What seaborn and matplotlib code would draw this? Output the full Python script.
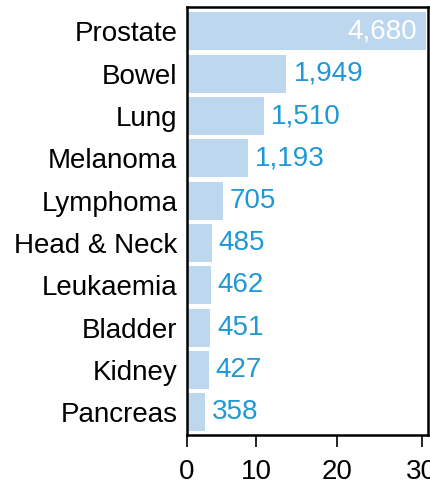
import matplotlib
matplotlib.use("Agg")
import matplotlib.pyplot as plt
import seaborn as sns
import pandas as pd

cancers = ["Prostate", "Bowel", "Lung", "Melanoma", "Lymphoma",
           "Head & Neck", "Leukaemia", "Bladder", "Kidney", "Pancreas"]
cases = [4680, 1949, 1510, 1193, 705, 485, 462, 451, 427, 358]
tick_labels = ["0", "10", "20", "30"]
tick_values = [0, 1360, 2940, 4600]

df = pd.DataFrame({"cancer": cancers, "cases": cases})

sns.set_style("white")
plt.rcParams["font.family"] = ["Liberation Sans", "DejaVu Sans"]
plt.rcParams["text.color"] = "black"
plt.rcParams["xtick.color"] = "black"
plt.rcParams["ytick.color"] = "black"

fig = plt.figure(figsize=(4.3, 4.88), dpi=100)
ax = fig.add_axes([0.435, 0.109, 0.56, 0.877])

sns.barplot(data=df, x="cases", y="cancer", orient="h", color="#bdd7ef",
            saturation=1, width=0.9, linewidth=0, ax=ax)

ax.set_xlim(0, 4720)
ax.set_ylim(len(cancers) - 0.47, -0.58)
ax.set_xlabel("")
ax.set_ylabel("")
ax.set_xticks(tick_values)
ax.set_xticklabels(tick_labels)
ax.tick_params(axis="x", direction="out", length=8.5, width=1.2, pad=9,
               labelsize=20, bottom=True, colors="black")
ax.tick_params(axis="y", length=0, pad=7, labelsize=20, colors="black")

for s in ax.spines.values():
    s.set_visible(True)
    s.set_linewidth(1.8)
    s.set_color("black")

for i, (bar, v) in enumerate(zip(ax.patches, cases)):
    y = bar.get_y() + bar.get_height() / 2
    if i == 0:
        ax.annotate(f"{v:,}", (bar.get_width(), y), xytext=(-6, 0),
                    textcoords="offset points", ha="right", va="center",
                    color="white", fontsize=20)
    else:
        ax.annotate(f"{v:,}", (bar.get_width(), y), xytext=(5, 0),
                    textcoords="offset points", ha="left", va="center",
                    color="#1f98d6", fontsize=20)

plt.savefig("out.png", dpi=100)
